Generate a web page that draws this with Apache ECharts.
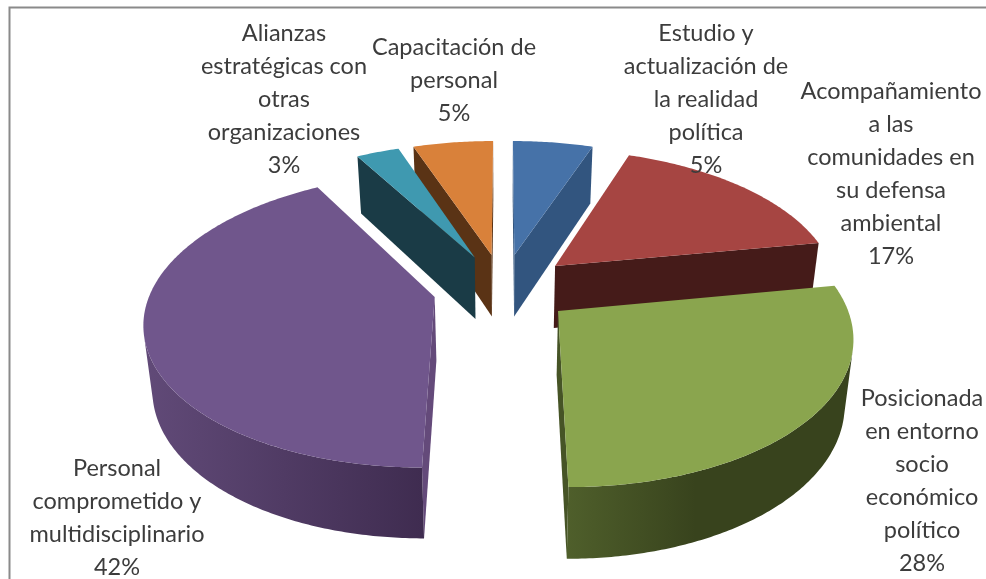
<!DOCTYPE html>
<html>
<head>
<meta charset="utf-8">
<style>
html, body { margin: 0; padding: 0; background: #fff; }
#chart { width: 986px; height: 579px; }
</style>
<script src="https://cdn.jsdelivr.net/npm/echarts@6/dist/echarts.min.js"></script>
</head>
<body>
<div id="chart"></div>
<script>
// shares, clockwise from 12 o'clock; labels show them rounded
var categories = [
    'Estudio y\nactualización de\nla realidad\npolítica',
    'Acompañamiento\na las\ncomunidades en\nsu defensa\nambiental',
    'Posicionada\nen entorno\nsocio\neconómico\npolítico',
    'Personal\ncomprometido y\nmultidisciplinario',
    'Alianzas\nestratégicas con\notras\norganizaciones',
    'Capacitación de\npersonal'
];
var values = [5.4, 16.8, 27.8, 41.7, 2.9, 5.4];

var topColors = ['#4672a8', '#a64542', '#8aa54e', '#70568c', '#3f99b0', '#d9813a'];
var wallColors = ['#32557f', '#451b19', '#465426', '#644a7a', '#1a3b46', '#5a3315'];
var arcFrom = ['#32557f', '#451b19', '#4f5f2b', '#614a78', '#1a3b46', '#5a3315'];
var arcTo = ['#32557f', '#451b19', '#38431d', '#3f2c50', '#1a3b46', '#5a3315'];
// centre x and first line y of each label
var labelX = [706, 891, 922, 117, 284, 454];
var labelY = [33, 91, 398, 468, 33, 47];

var lineHeight = 33;
var cx = 503, cy = 288, R = 283, explode = 70, persp = 0.155, squash = 0.498;

var total = values.reduce(function (a, b) { return a + b; }, 0);

function project(u, v) {
    var w = 1 / (1 - persp * v / R);
    return { x: cx + u * w, y: cy + squash * v * w, w: w };
}
function below(p) {
    return [cx + (p.x - cx) * 0.975, p.y + 63 + 40 * (p.w - 1)];
}
function area(pts) {
    var s = 0;
    for (var i = 0; i < pts.length; i++) {
        var a = pts[i], b = pts[(i + 1) % pts.length];
        s += a[0] * b[1] - b[0] * a[1];
    }
    return s;
}

function renderSlice(params, api) {
    var idx = params.dataIndex;
    var before = 0;
    for (var i = 0; i < idx; i++) before += values[i];
    var a0 = before / total * 2 * Math.PI;
    var a1 = (before + api.value(1)) / total * 2 * Math.PI;
    var mid = (a0 + a1) / 2;
    var u0 = Math.sin(mid) * explode, v0 = -Math.cos(mid) * explode;
    var apex = project(u0, v0);

    var rim = [];
    var steps = Math.max(4, Math.round((a1 - a0) * 90));
    for (var s = 0; s <= steps; s++) {
        var a = a0 + (a1 - a0) * s / steps;
        rim.push(project(u0 + Math.sin(a) * R, v0 - Math.cos(a) * R));
    }

    var children = [];
    var z = Math.round(v0) + 100;

    function face(p, q) {
        var pts = [[p.x, p.y], [q.x, q.y], below(q), below(p)];
        if (area(pts) < 0) {
            children.push({
                type: 'polygon', z2: z,
                shape: { points: pts },
                style: { fill: wallColors[idx] }
            });
        }
    }
    face(apex, rim[0]);
    face(rim[rim.length - 1], apex);

    // outer wall, only the run of facets that faces the viewer
    var upper = [], lower = [];
    for (var k = 0; k < rim.length - 1; k++) {
        var f = [[rim[k].x, rim[k].y], [rim[k + 1].x, rim[k + 1].y], below(rim[k + 1]), below(rim[k])];
        if (area(f) < 0) {
            if (!upper.length) {
                upper.push(f[0]);
                lower.push(f[3]);
            }
            upper.push(f[1]);
            lower.push(f[2]);
        }
    }
    if (upper.length) {
        children.push({
            type: 'polygon', z2: z,
            shape: { points: upper.concat(lower.reverse()) },
            style: {
                fill: new echarts.graphic.LinearGradient(0, 0, 1, 0, idx === 2 ? [
                    { offset: 0, color: arcFrom[idx] },
                    { offset: 0.45, color: arcTo[idx] },
                    { offset: 1, color: arcTo[idx] }
                ] : [
                    { offset: 0, color: arcFrom[idx] },
                    { offset: 1, color: arcTo[idx] }
                ])
            }
        });
    }

    children.push({
        type: 'polygon', z2: z + 1,
        shape: { points: [[apex.x, apex.y]].concat(rim.map(function (p) { return [p.x, p.y]; })) },
        style: { fill: topColors[idx] }
    });

    return { type: 'group', children: children };
}

var labels = categories.map(function (name, i) {
    return {
        type: 'text',
        z: 20,
        x: labelX[i],
        y: labelY[i] - lineHeight / 2,
        style: {
            text: name + '\n' + Math.round(values[i]) + '%',
            fontFamily: 'Lato',
            fontSize: 23.5,
            lineHeight: lineHeight,
            fill: '#3c3c3c',
            align: 'center',
            verticalAlign: 'top'
        }
    };
});

var frame = {
    type: 'polyline',
    z: 1,
    shape: { points: [[9.5, 579], [9.5, 7.5], [986, 7.5]] },
    style: { stroke: '#8a8a8a', lineWidth: 2, fill: 'none' }
};

var chart = echarts.init(document.getElementById('chart'));
chart.setOption({
    backgroundColor: '#ffffff',
    animation: false,
    graphic: { elements: [frame].concat(labels) },
    series: [{
        type: 'custom',
        coordinateSystem: 'none',
        renderItem: renderSlice,
        data: values.map(function (v, i) { return [i, v]; })
    }]
});
</script>
</body>
</html>
